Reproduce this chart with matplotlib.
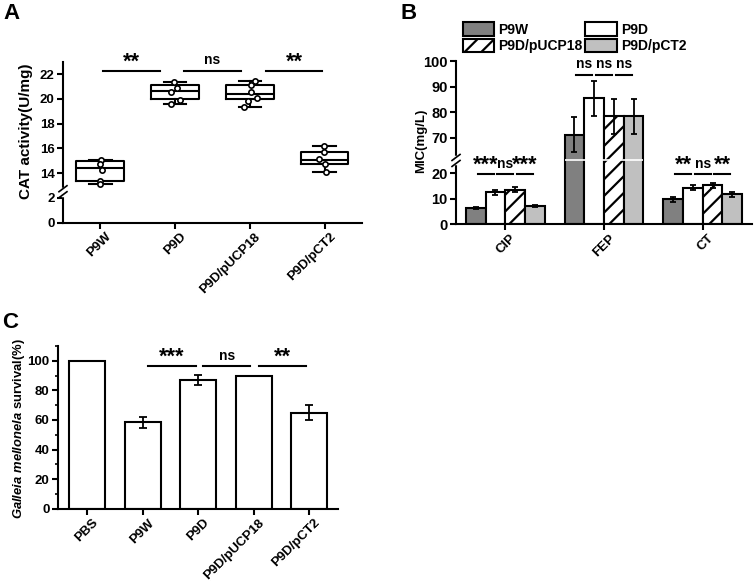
import numpy as np
import matplotlib
matplotlib.use("Agg")
import matplotlib.pyplot as plt
from matplotlib.ticker import FixedLocator, MultipleLocator
from matplotlib.lines import Line2D
from matplotlib.patches import Patch
import matplotlib.transforms as mtransforms

plt.rcParams['font.family'] = ['Liberation Sans', 'DejaVu Sans']
plt.rcParams['font.weight'] = 'bold'
plt.rcParams['axes.labelweight'] = 'bold'
plt.rcParams['mathtext.fontset'] = 'custom'
plt.rcParams['mathtext.it'] = 'Liberation Sans:italic:bold'
plt.rcParams['mathtext.rm'] = 'Liberation Sans:bold'
plt.rcParams['hatch.linewidth'] = 1.6
plt.rcParams['axes.linewidth'] = 1.5

# ---------------- data ----------------
# panel A: CAT activity (U/mg), box stats + individual points
strains_a = ['P9W', 'P9D', 'P9D/pUCP18', 'P9D/pCT2']
box_q1 = [13.40, 19.95, 19.97, 14.73]
box_med = [14.45, 20.62, 20.38, 15.05]
box_q3 = [14.94, 21.08, 21.09, 15.74]
box_lo = [13.16, 19.60, 19.38, 14.13]
box_hi = [15.05, 21.38, 21.42, 16.18]
points_a = [
    [15.05, 14.77, 14.24, 13.38, 13.16],
    [21.38, 20.85, 20.55, 19.90, 19.58],
    [21.42, 21.11, 20.57, 20.10, 19.85, 19.38],
    [16.18, 15.74, 15.13, 14.77, 14.13],
]
jitter_a = [
    [0.01, 0.0, 0.02, -0.01, 0.0],
    [-0.01, 0.03, -0.06, 0.06, -0.06],
    [0.07, 0.02, 0.01, 0.10, -0.03, -0.08],
    [-0.01, -0.01, -0.08, 0.0, 0.02],
]
sig_a = ['**', 'ns', '**']

# panel B: MIC (mg/L)
drugs = ['CIP', 'FEP', 'CT']
mic_p9w = [6.3, 71.2, 9.8]
mic_p9d = [12.5, 85.4, 14.3]
mic_pucp = [13.4, 78.3, 15.3]
mic_pct2 = [7.1, 78.3, 11.7]
err_p9w = [0.5, 7.0, 1.0]
err_p9d = [0.9, 7.0, 1.0]
err_pucp = [1.0, 7.0, 1.0]
err_pct2 = [0.5, 7.0, 1.0]
sig_b = [['***', 'ns', '***'], ['ns', 'ns', 'ns'], ['**', 'ns', '**']]

# panel C: survival (%)
strains_c = ['PBS', 'P9W', 'P9D', 'P9D/pUCP18', 'P9D/pCT2']
survival = [100, 58.5, 87.0, 90.0, 65.0]
survival_err = [0, 3.8, 3.5, 0, 5.0]
sig_c = ['***', 'ns', '**']


def broken(lo, hi):
    gap = hi - lo
    def fwd(y):
        y = np.asarray(y, dtype=float)
        return np.where(y <= lo, y, np.maximum(y - gap, lo))
    def inv(y):
        y = np.asarray(y, dtype=float)
        return np.where(y <= lo, y, y + gap)
    return fwd, inv


def style_ax(ax, size=9.5):
    ax.spines['top'].set_visible(False)
    ax.spines['right'].set_visible(False)
    ax.tick_params(direction='out', length=4, width=1.5, labelsize=size, pad=2)
    for lab in ax.get_yticklabels():
        lab.set_fontweight('bold')


def rot_labels(ax, labels, fig, dx=9):
    ax.set_xticklabels(labels, rotation=45, ha='right', va='center',
                       rotation_mode='anchor', fontsize=9.5, fontweight='bold')
    off = mtransforms.ScaledTranslation(dx / 100, -4 / 100, fig.dpi_scale_trans)
    for lab in ax.get_xticklabels():
        lab.set_transform(lab.get_transform() + off)


def break_mark(ax, yfrac):
    h = ax.get_window_extent().height
    w = ax.get_window_extent().width
    dy = 3.0 / h
    dx = 4.0 / w
    ax.add_line(Line2D([0, 0], [yfrac - dy, yfrac + dy], transform=ax.transAxes,
                       color='white', lw=2.5, clip_on=False, zorder=6))
    for s in (-1, 1):
        y0 = yfrac + s * dy
        ax.add_line(Line2D([-dx, dx], [y0 - dy, y0 + dy], transform=ax.transAxes,
                           color='black', lw=1.2, clip_on=False, zorder=7))


def sig(ax, x0, x1, y, s):
    ax.plot([x0, x1], [y, y], color='black', lw=1.5, clip_on=False)
    star = '*' in s
    ax.annotate(s, ((x0 + x1) / 2, y), xytext=(0, 2.4 if star else 4.8),
                textcoords='offset points', ha='center', va='baseline',
                fontsize=15.5 if star else 10, fontweight='bold',
                annotation_clip=False)


fig = plt.figure(figsize=(7.55, 5.84), dpi=100)

# ---------------- panel A ----------------
axA = fig.add_axes([0.0834, 0.6187, 0.396, 0.2757])
axA.set_yscale('function', functions=broken(2.5, 12.5))
axA.set_ylim(0, 23)
axA.set_xlim(-0.5, 3.5)
stats = []
for i in range(len(strains_a)):
    stats.append(dict(med=box_med[i], q1=box_q1[i], q3=box_q3[i],
                      whislo=box_lo[i], whishi=box_hi[i], fliers=[]))
axA.bxp(stats, positions=range(len(strains_a)), widths=0.64, capwidths=0.3,
        showfliers=False,
        boxprops=dict(color='black', lw=1.5),
        medianprops=dict(color='black', lw=1.5),
        whiskerprops=dict(color='black', lw=1.5),
        capprops=dict(color='black', lw=1.5))
for i, pts in enumerate(points_a):
    xs = [i + j for j in jitter_a[i]]
    axA.plot(xs, pts, 'o', ms=3.8, mfc='white', mec='black', mew=1.2, zorder=5)
axA.yaxis.set_major_locator(FixedLocator([0, 2, 14, 16, 18, 20, 22]))
axA.set_xticks(range(len(strains_a)))
style_ax(axA)
rot_labels(axA, strains_a, fig)
axA.set_ylabel('CAT activity(U/mg)', fontsize=11, fontweight='bold')
axA.yaxis.set_label_coords(-0.10, 0.57)
sig_a_x = [(0.04, 0.80), (1.12, 1.88), (2.21, 2.97)]
for (x0, x1), s in zip(sig_a_x, sig_a):
    sig(axA, x0, x1, 22.25, s)
break_mark(axA, 2.5 / 13)

# ---------------- panel B ----------------
axB = fig.add_axes([0.604, 0.6164, 0.392, 0.2786])
axB.set_yscale('function', functions=broken(25, 61))
axB.set_ylim(0, 100)
axB.set_xlim(-0.5, 2.5)
xb = np.arange(len(drugs))
bw = 0.2
series = [
    (mic_p9w, err_p9w, 'P9W', '#808080', None),
    (mic_p9d, err_p9d, 'P9D', 'white', None),
    (mic_pucp, err_pucp, 'P9D/pUCP18', 'white', '//'),
    (mic_pct2, err_pct2, 'P9D/pCT2', '#c0c0c0', None),
]
for k, (vals, errs, name, col, hatch) in enumerate(series):
    pos = xb + (k - 1.5) * bw
    axB.bar(pos, vals, width=bw, color=col, edgecolor='black', lw=1.5,
            hatch=hatch, label=name)
    axB.errorbar(pos, vals, yerr=errs, fmt='none', ecolor='black',
                 elinewidth=1.3, capsize=2.5, capthick=1.3, zorder=4)
# white break line across the tall FEP bars
axB.hlines(25, 1 - 2 * bw + 0.005, 1 + 2 * bw - 0.005, color='white', lw=1.2, zorder=5)
axB.yaxis.set_major_locator(FixedLocator([0, 10, 20, 70, 80, 90, 100]))
axB.set_xticks(xb)
style_ax(axB, size=10.5)
rot_labels(axB, drugs, fig)
axB.set_ylabel('MIC(mg/L)', fontsize=9.5, fontweight='bold')
axB.yaxis.set_label_coords(-0.098, 0.51)
for g, labs in enumerate(sig_b):
    ly = 94.7 if g == 1 else 19.5
    for k, s in enumerate(labs):
        cx = g + (k - 1) * bw
        sig(axB, cx - 0.08, cx + 0.08, ly, s)
break_mark(axB, 25 / 64)
handles = [Patch(facecolor=c, edgecolor='black', lw=1.5, hatch=h, label=n)
           for (_, _, n, c, h) in series]
fig.legend(handles=[handles[0], handles[2], handles[1], handles[3]],
           labels=['P9W', 'P9D/pUCP18', 'P9D', 'P9D/pCT2'],
           ncol=2, loc='upper left', bbox_to_anchor=(0.6132, 0.962),
           frameon=False, borderpad=0, borderaxespad=0,
           handlelength=2.25, handleheight=1.1, handletextpad=0.3,
           columnspacing=0.2, labelspacing=0.15,
           prop=dict(weight='bold', size=10))

# ---------------- panel C ----------------
axC = fig.add_axes([0.0768, 0.1289, 0.371, 0.2786])
xc = np.arange(len(strains_c))
axC.bar(xc, survival, width=0.65, color='white', edgecolor='black', lw=1.5)
errc = np.array(survival_err, dtype=float)
mask = errc > 0
axC.errorbar(xc[mask], np.array(survival)[mask], yerr=errc[mask], fmt='none',
             ecolor='black', elinewidth=1.3, capsize=3, capthick=1.3)
axC.set_xlim(-0.53, 4.52)
axC.set_ylim(0, 110)
axC.yaxis.set_major_locator(FixedLocator([0, 20, 40, 60, 80, 100]))
axC.yaxis.set_minor_locator(MultipleLocator(10))
axC.tick_params(which='minor', length=2, width=1.2)
axC.set_xticks(xc)
style_ax(axC)
rot_labels(axC, strains_c, fig)
axC.set_ylabel(r'$Galleia\ mellonela$ survival(%)', fontsize=9.4,
               fontweight='bold')
axC.yaxis.set_label_coords(-0.11, 0.49)
sig_c_x = [(1.09, 1.95), (2.09, 2.94), (3.09, 3.95)]
for (x0, x1), s in zip(sig_c_x, sig_c):
    sig(axC, x0, x1, 96.2, s)

# panel letters
fig.text(0.005, 0.995, 'A', fontsize=16, fontweight='bold', va='top')
fig.text(0.531, 0.995, 'B', fontsize=16, fontweight='bold', va='top')
fig.text(0.003, 0.465, 'C', fontsize=16, fontweight='bold', va='top')

fig.savefig('out.png', dpi=100)
